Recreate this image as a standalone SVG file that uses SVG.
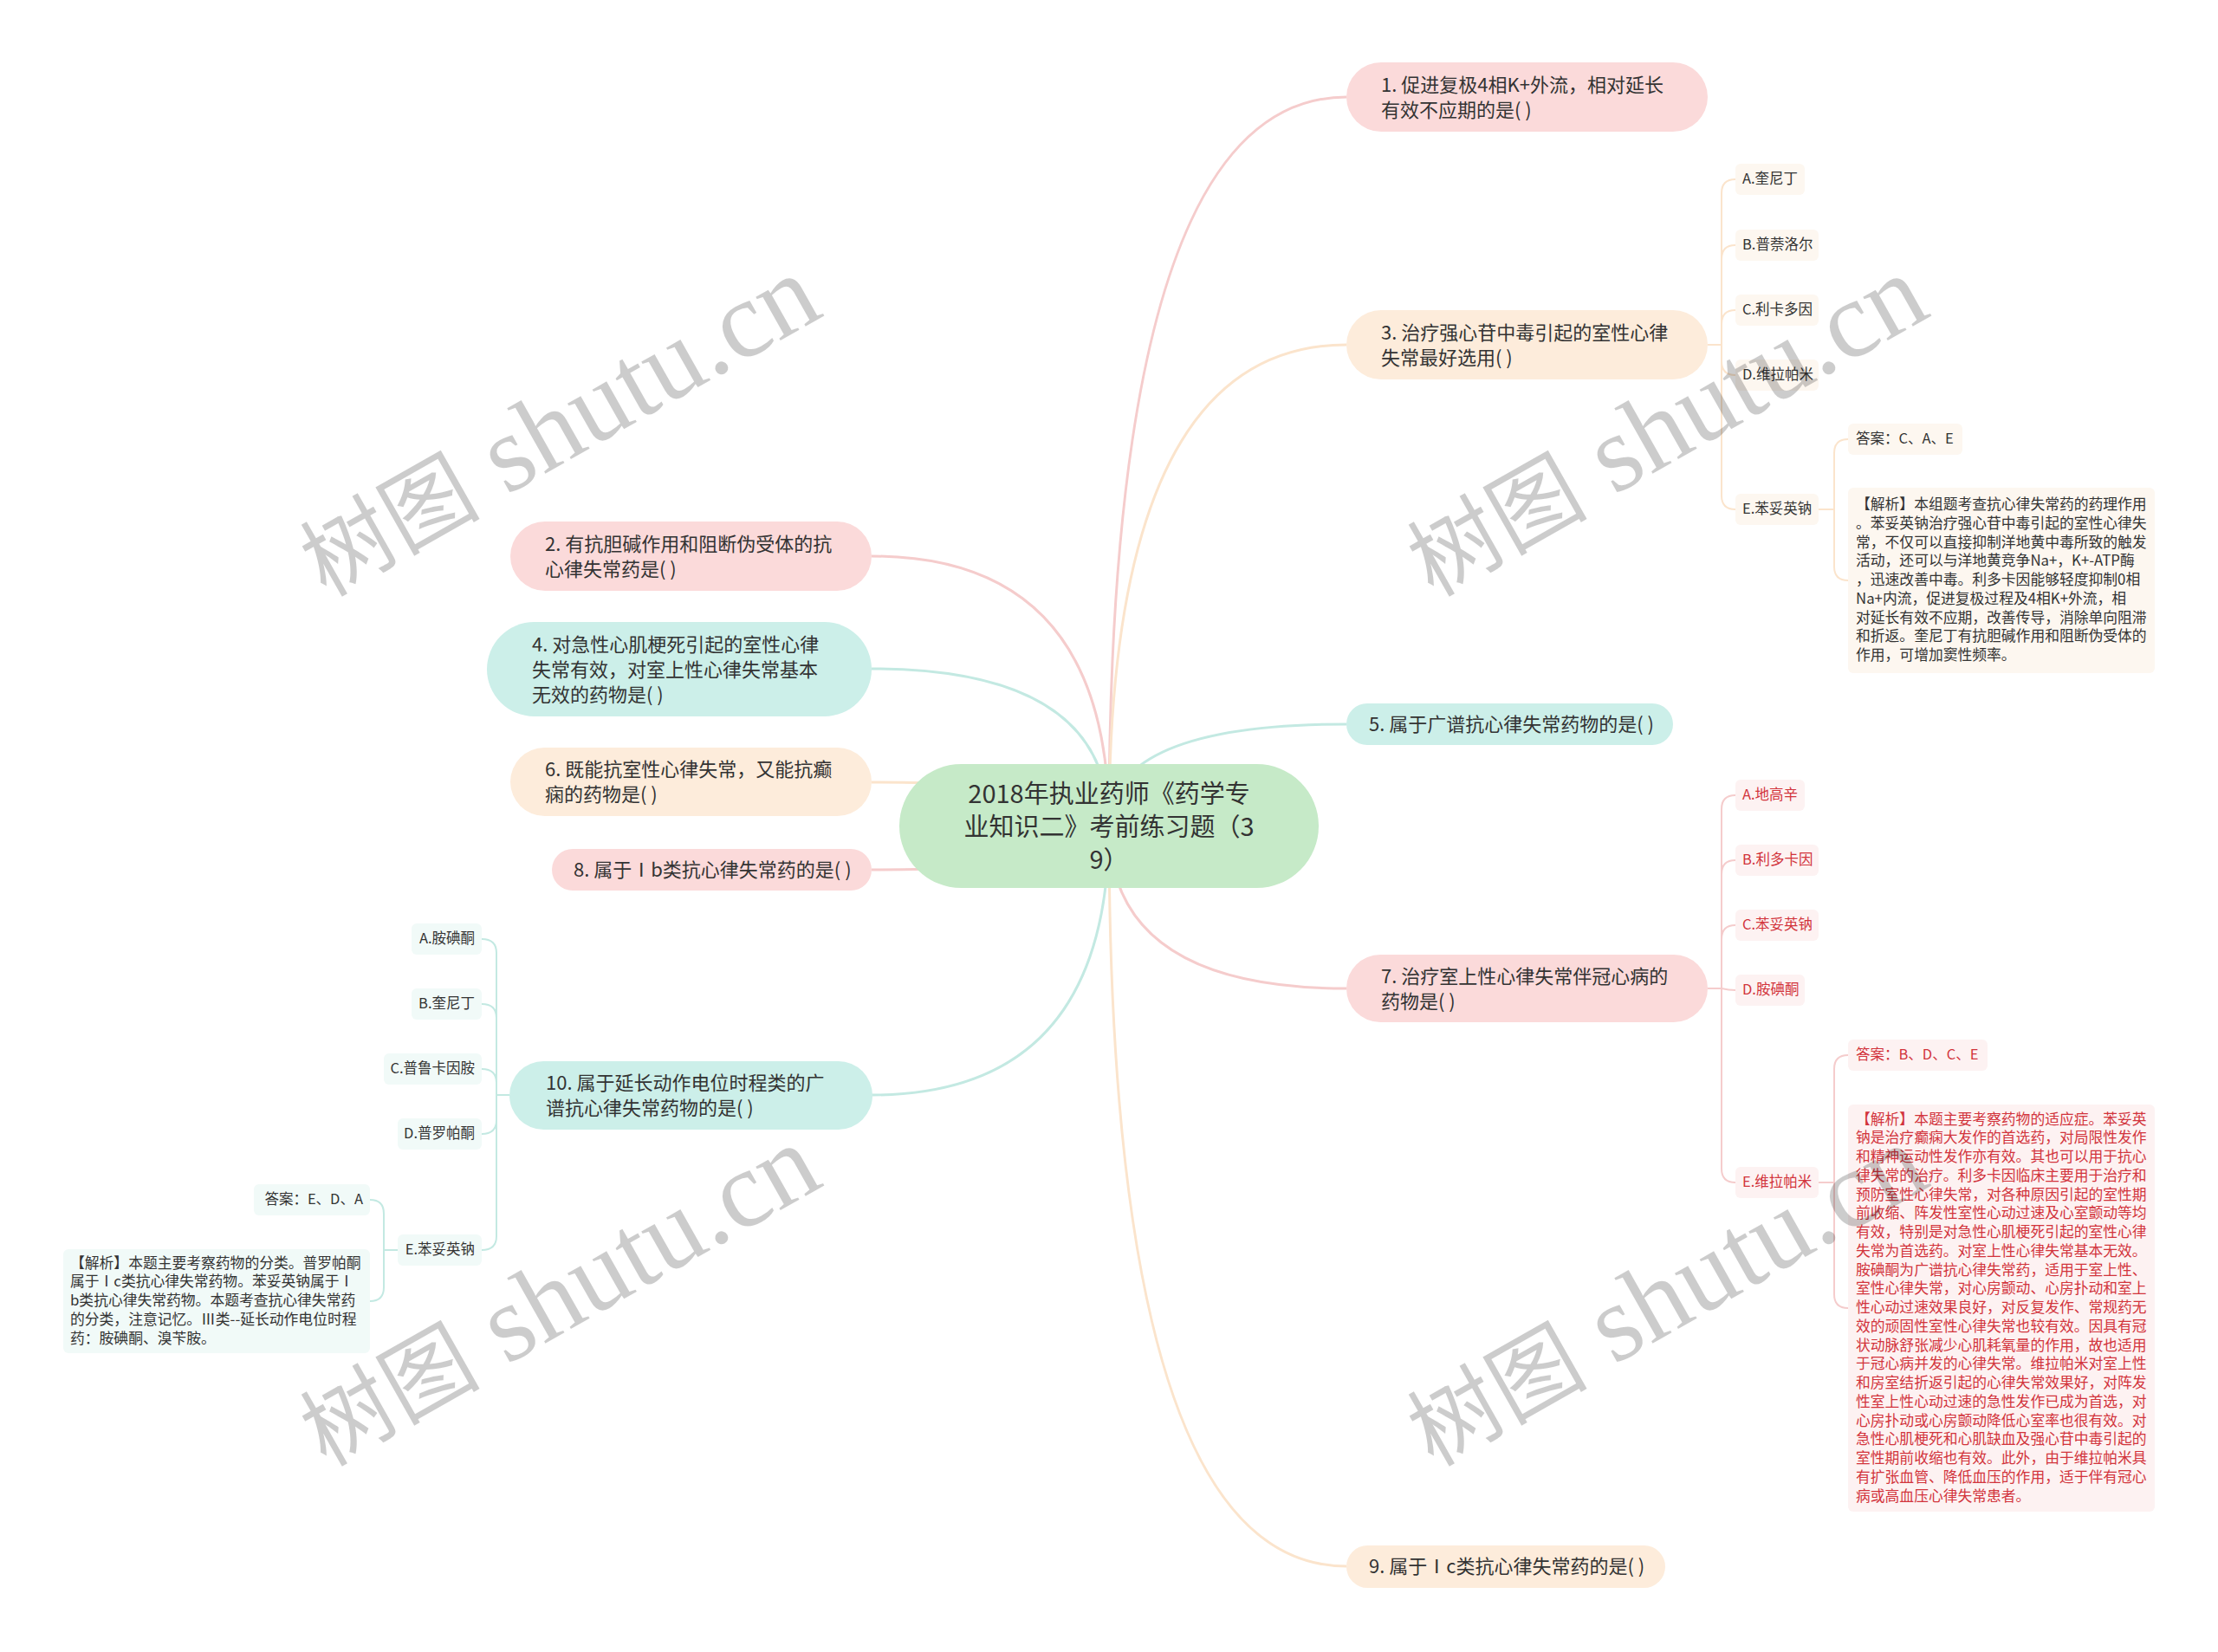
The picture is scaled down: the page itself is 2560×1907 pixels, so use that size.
<svg xmlns="http://www.w3.org/2000/svg" width="2560" height="1907" viewBox="0 0 2560 1907">
<style>
.t{font-family:"Noto Sans CJK SC","Noto Sans",sans-serif;fill:#333;dominant-baseline:central;transform:translate(0px,-2px)}
.main{font-size:22px}
.root{font-size:29px}
.opt{font-size:16.5px}
.exp{font-size:16.8px}
.red{fill:#d2343c}
.lp{stroke:#f5cccc;fill:none;stroke-width:3}
.lo{stroke:#fbe4cc;fill:none;stroke-width:3}
.lt{stroke:#c3e9e2;fill:none;stroke-width:3}
.sp{stroke:#f5cccc;fill:none;stroke-width:2}
.so{stroke:#fbe4cc;fill:none;stroke-width:2}
.st{stroke:#c3e9e2;fill:none;stroke-width:2}
.fp{fill:#fbdada}
.fo{fill:#fdecdb}
.ft{fill:#ccefe9}
.bp{fill:#fdf2f2}
.bo{fill:#fdf7f0}
.bt{fill:#f1faf8}
.wm{font-family:"Liberation Serif","Noto Sans CJK SC",serif;fill:#000;fill-opacity:0.2}
</style>
<rect width="2560" height="1907" fill="#ffffff"/>
<g id="connectors">
<path class="lp" d="M1280 953 Q1280 112 1554 112"/>
<path class="lo" d="M1280 953 Q1280 398 1554 398"/>
<path class="lt" d="M1280 953 Q1280 836 1554 836"/>
<path class="lp" d="M1280 953 Q1280 1141 1554 1141"/>
<path class="lo" d="M1280 953 Q1280 1808 1554 1808"/>
<path class="lp" d="M1280 953 Q1280 642 1006 642"/>
<path class="lt" d="M1280 953 Q1280 772 1006 772"/>
<path class="lo" d="M1280 953 Q1280 903 1006 903"/>
<path class="lp" d="M1280 953 Q1280 1004 1006 1004"/>
<path class="lt" d="M1280 953 Q1280 1264 1006 1264"/>
<path class="so" d="M1971 398 H1987 V223 Q1987 207 2003 207"/>
<path class="so" d="M1971 398 H1987 V299 Q1987 283 2003 283"/>
<path class="so" d="M1971 398 H1987 V374 Q1987 358 2003 358"/>
<path class="so" d="M1971 398 H1987 V417 Q1987 433 2003 433"/>
<path class="so" d="M1971 398 H1987 V572 Q1987 588 2003 588"/>
<path class="so" d="M2098 588 H2117 V523 Q2117 507 2133 507"/>
<path class="so" d="M2098 588 H2117 V654 Q2117 670 2133 670"/>
<path class="sp" d="M1971 1141 H1987 V934 Q1987 918 2003 918"/>
<path class="sp" d="M1971 1141 H1987 V1009 Q1987 993 2003 993"/>
<path class="sp" d="M1971 1141 H1987 V1084 Q1987 1068 2003 1068"/>
<path class="sp" d="M1971 1141 H1987 Q1995 1143 2003 1143"/>
<path class="sp" d="M1971 1141 H1987 V1349 Q1987 1365 2003 1365"/>
<path class="sp" d="M2098 1365 H2117 V1234 Q2117 1218 2133 1218"/>
<path class="sp" d="M2098 1365 H2117 V1494 Q2117 1510 2133 1510"/>
<path class="st" d="M588 1264 H573 V1100 Q573 1084 556 1084"/>
<path class="st" d="M588 1264 H573 V1175 Q573 1159 556 1159"/>
<path class="st" d="M588 1264 H573 V1250 Q573 1234 556 1234"/>
<path class="st" d="M588 1264 H573 V1293 Q573 1309 556 1309"/>
<path class="st" d="M588 1264 H573 V1427 Q573 1443 556 1443"/>
<path class="st" d="M459 1443 H443 V1401 Q443 1385 427 1385"/>
<path class="st" d="M459 1443 H443 V1486 Q443 1502 427 1502"/>
</g>
<g id="root">
<rect x="1038" y="882" width="484" height="143" rx="71.5" fill="#c6eac8"/>
<text class="t root" text-anchor="middle"><tspan x="1280" y="915.5">2018年执业药师《药学专</tspan><tspan x="1280" y="953.5">业知识二》考前练习题（3</tspan><tspan x="1280" y="991.5">9）</tspan></text>
</g>
<g id="n1">
<rect class="fp" x="1554" y="72" width="417" height="80" rx="40"/>
<text class="t main"><tspan x="1594" y="97.5">1. 促进复极4相K+外流，相对延长</tspan><tspan x="1594" y="126.5">有效不应期的是( )</tspan></text>
</g>
<g id="n3">
<rect class="fo" x="1554" y="358" width="417" height="80" rx="40"/>
<text class="t main"><tspan x="1594" y="383.5">3. 治疗强心苷中毒引起的室性心律</tspan><tspan x="1594" y="412.5">失常最好选用( )</tspan></text>
</g>
<g id="n3a"><rect class="bo" x="2003" y="189" width="80" height="36" rx="6"/><text class="t opt" x="2011" y="207">A.奎尼丁</text></g>
<g id="n3b"><rect class="bo" x="2003" y="265" width="96" height="36" rx="6"/><text class="t opt" x="2011" y="283">B.普萘洛尔</text></g>
<g id="n3c"><rect class="bo" x="2003" y="340" width="96" height="36" rx="6"/><text class="t opt" x="2011" y="358">C.利卡多因</text></g>
<g id="n3d"><rect class="bo" x="2003" y="415" width="96" height="36" rx="6"/><text class="t opt" x="2011" y="433">D.维拉帕米</text></g>
<g id="n3e"><rect class="bo" x="2003" y="570" width="96" height="36" rx="6"/><text class="t opt" x="2011" y="588">E.苯妥英钠</text></g>
<g id="n3ans"><rect class="bo" x="2133" y="489" width="132" height="36" rx="6"/><text class="t opt" x="2142" y="507">答案：C、A、E</text></g>
<g id="n3exp">
<rect class="bo" x="2133" y="563" width="354" height="214" rx="6"/>
<text class="t exp"><tspan x="2142" y="583">【解析】本组题考查抗心律失常药的药理作用</tspan><tspan x="2142" y="604.75">。苯妥英钠治疗强心苷中毒引起的室性心律失</tspan><tspan x="2142" y="626.5">常，不仅可以直接抑制洋地黄中毒所致的触发</tspan><tspan x="2142" y="648.25">活动，还可以与洋地黄竞争Na+，K+-ATP酶</tspan><tspan x="2142" y="670">，迅速改善中毒。利多卡因能够轻度抑制0相</tspan><tspan x="2142" y="691.75">Na+内流，促进复极过程及4相K+外流，相</tspan><tspan x="2142" y="713.5">对延长有效不应期，改善传导，消除单向阻滞</tspan><tspan x="2142" y="735.25">和折返。奎尼丁有抗胆碱作用和阻断伪受体的</tspan><tspan x="2142" y="757">作用，可增加窦性频率。</tspan></text>
</g>
<g id="n5">
<rect class="ft" x="1554" y="812" width="377" height="48" rx="24"/>
<text class="t main" x="1580" y="836">5. 属于广谱抗心律失常药物的是( )</text>
</g>
<g id="n7">
<rect class="fp" x="1554" y="1102" width="417" height="78" rx="39"/>
<text class="t main"><tspan x="1594" y="1126.5">7. 治疗室上性心律失常伴冠心病的</tspan><tspan x="1594" y="1155.5">药物是( )</tspan></text>
</g>
<g id="n7a"><rect class="bp" x="2003" y="900" width="80" height="36" rx="6"/><text class="t opt red" x="2011" y="918">A.地高辛</text></g>
<g id="n7b"><rect class="bp" x="2003" y="975" width="96" height="36" rx="6"/><text class="t opt red" x="2011" y="993">B.利多卡因</text></g>
<g id="n7c"><rect class="bp" x="2003" y="1050" width="96" height="36" rx="6"/><text class="t opt red" x="2011" y="1068">C.苯妥英钠</text></g>
<g id="n7d"><rect class="bp" x="2003" y="1125" width="80" height="36" rx="6"/><text class="t opt red" x="2011" y="1143">D.胺碘酮</text></g>
<g id="n7e"><rect class="bp" x="2003" y="1347" width="96" height="36" rx="6"/><text class="t opt red" x="2011" y="1365">E.维拉帕米</text></g>
<g id="n7ans"><rect class="bp" x="2133" y="1200" width="161" height="36" rx="6"/><text class="t opt red" x="2142" y="1218">答案：B、D、C、E</text></g>
<g id="n7exp">
<rect class="bp" x="2133" y="1275" width="354" height="470" rx="6"/>
<text class="t exp red"><tspan x="2142" y="1292.5">【解析】本题主要考察药物的适应症。苯妥英</tspan><tspan x="2142" y="1314.25">钠是治疗癫痫大发作的首选药，对局限性发作</tspan><tspan x="2142" y="1336">和精神运动性发作亦有效。其也可以用于抗心</tspan><tspan x="2142" y="1357.75">律失常的治疗。利多卡因临床主要用于治疗和</tspan><tspan x="2142" y="1379.5">预防室性心律失常，对各种原因引起的室性期</tspan><tspan x="2142" y="1401.25">前收缩、阵发性室性心动过速及心室颤动等均</tspan><tspan x="2142" y="1423">有效，特别是对急性心肌梗死引起的室性心律</tspan><tspan x="2142" y="1444.75">失常为首选药。对室上性心律失常基本无效。</tspan><tspan x="2142" y="1466.5">胺碘酮为广谱抗心律失常药，适用于室上性、</tspan><tspan x="2142" y="1488.25">室性心律失常，对心房颤动、心房扑动和室上</tspan><tspan x="2142" y="1510">性心动过速效果良好，对反复发作、常规药无</tspan><tspan x="2142" y="1531.75">效的顽固性室性心律失常也较有效。因具有冠</tspan><tspan x="2142" y="1553.5">状动脉舒张减少心肌耗氧量的作用，故也适用</tspan><tspan x="2142" y="1575.25">于冠心病并发的心律失常。维拉帕米对室上性</tspan><tspan x="2142" y="1597">和房室结折返引起的心律失常效果好，对阵发</tspan><tspan x="2142" y="1618.75">性室上性心动过速的急性发作已成为首选，对</tspan><tspan x="2142" y="1640.5">心房扑动或心房颤动降低心室率也很有效。对</tspan><tspan x="2142" y="1662.25">急性心肌梗死和心肌缺血及强心苷中毒引起的</tspan><tspan x="2142" y="1684">室性期前收缩也有效。此外，由于维拉帕米具</tspan><tspan x="2142" y="1705.75">有扩张血管、降低血压的作用，适于伴有冠心</tspan><tspan x="2142" y="1727.5">病或高血压心律失常患者。</tspan></text>
</g>
<g id="n9">
<rect class="fo" x="1554" y="1784" width="368" height="49" rx="24.5"/>
<text class="t main" x="1580" y="1808">9. 属于Ⅰc类抗心律失常药的是( )</text>
</g>
<g id="n2">
<rect class="fp" x="589" y="602" width="417" height="80" rx="40"/>
<text class="t main"><tspan x="629" y="627.5">2. 有抗胆碱作用和阻断伪受体的抗</tspan><tspan x="629" y="656.5">心律失常药是( )</tspan></text>
</g>
<g id="n4">
<rect class="ft" x="562" y="718" width="444" height="109" rx="54.5"/>
<text class="t main"><tspan x="614" y="743.5">4. 对急性心肌梗死引起的室性心律</tspan><tspan x="614" y="772.5">失常有效，对室上性心律失常基本</tspan><tspan x="614" y="801.5">无效的药物是( )</tspan></text>
</g>
<g id="n6">
<rect class="fo" x="589" y="863" width="417" height="79" rx="39.5"/>
<text class="t main"><tspan x="629" y="888">6. 既能抗室性心律失常，又能抗癫</tspan><tspan x="629" y="917">痫的药物是( )</tspan></text>
</g>
<g id="n8">
<rect class="fp" x="637" y="980" width="369" height="48" rx="24"/>
<text class="t main" x="662" y="1004">8. 属于Ⅰb类抗心律失常药的是( )</text>
</g>
<g id="n10">
<rect class="ft" x="588" y="1225" width="419" height="79" rx="39.5"/>
<text class="t main"><tspan x="630" y="1250">10. 属于延长动作电位时程类的广</tspan><tspan x="630" y="1279">谱抗心律失常药物的是( )</tspan></text>
</g>
<g id="n10a"><rect class="bt" x="475" y="1066" width="81" height="36" rx="6"/><text class="t opt" x="548" y="1084" text-anchor="end">A.胺碘酮</text></g>
<g id="n10b"><rect class="bt" x="475" y="1141" width="81" height="36" rx="6"/><text class="t opt" x="548" y="1159" text-anchor="end">B.奎尼丁</text></g>
<g id="n10c"><rect class="bt" x="443" y="1216" width="113" height="36" rx="6"/><text class="t opt" x="548" y="1234" text-anchor="end">C.普鲁卡因胺</text></g>
<g id="n10d"><rect class="bt" x="459" y="1291" width="97" height="36" rx="6"/><text class="t opt" x="548" y="1309" text-anchor="end">D.普罗帕酮</text></g>
<g id="n10e"><rect class="bt" x="459" y="1425" width="97" height="36" rx="6"/><text class="t opt" x="548" y="1443" text-anchor="end">E.苯妥英钠</text></g>
<g id="n10ans"><rect class="bt" x="293" y="1367" width="134" height="36" rx="6"/><text class="t opt" x="419" y="1385" text-anchor="end">答案：E、D、A</text></g>
<g id="n10exp">
<rect class="bt" x="73" y="1442" width="354" height="120" rx="6"/>
<text class="t exp"><tspan x="81" y="1458.5">【解析】本题主要考察药物的分类。普罗帕酮</tspan><tspan x="81" y="1480.25">属于Ⅰc类抗心律失常药物。苯妥英钠属于Ⅰ</tspan><tspan x="81" y="1502">b类抗心律失常药物。本题考查抗心律失常药</tspan><tspan x="81" y="1523.75">的分类，注意记忆。Ⅲ类--延长动作电位时程</tspan><tspan x="81" y="1545.5">药：胺碘酮、溴苄胺。</tspan></text>
</g>
<g id="watermarks">
<text class="wm" transform="translate(376 690) rotate(-29.5)"><tspan font-size="104">树图</tspan><tspan font-size="126"> shutu.cn</tspan></text>
<text class="wm" transform="translate(1654 690) rotate(-29.5)"><tspan font-size="104">树图</tspan><tspan font-size="126"> shutu.cn</tspan></text>
<text class="wm" transform="translate(376 1694) rotate(-29.5)"><tspan font-size="104">树图</tspan><tspan font-size="126"> shutu.cn</tspan></text>
<text class="wm" transform="translate(1654 1694) rotate(-29.5)"><tspan font-size="104">树图</tspan><tspan font-size="126"> shutu.cn</tspan></text>
</g>
</svg>
